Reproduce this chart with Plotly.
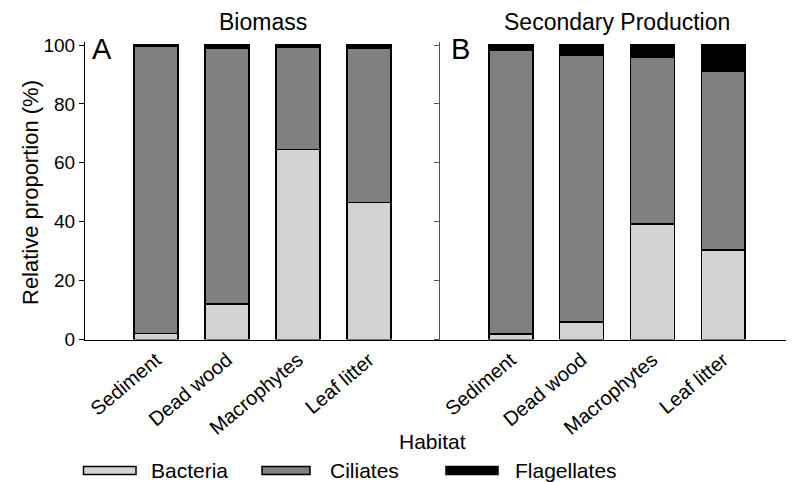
import plotly.graph_objects as go

categories = ["Sediment", "Dead wood", "Macrophytes", "Leaf litter"]
biomass_bacteria = [2.1, 12.0, 64.5, 46.5]
biomass_ciliates = [97.6, 87.0, 34.9, 52.3]
biomass_flagellates = [0.3, 1.0, 0.6, 1.2]
prod_bacteria = [1.9, 6.0, 39.2, 30.4]
prod_ciliates = [96.3, 90.4, 56.8, 60.8]
prod_flagellates = [1.8, 3.6, 4.0, 8.8]
series_names = ["Bacteria", "Ciliates", "Flagellates"]
series_colors = ["#d3d3d3", "#808080", "#000000"]
y_ticks = [0, 20, 40, 60, 80, 100]

# the page body adds an 8px offset; size the figure so it reaches the window edges
OFF = 8
W, H = 794 - OFF, 482 - OFF
FONT = "Liberation Sans, Arial, sans-serif"

def px(x):
    return (x - OFF) / W

def py(y):
    return 1 - (y - OFF) / H

fig = go.Figure()
panels = [
    ("x", "y", [biomass_bacteria, biomass_ciliates, biomass_flagellates]),
    ("x2", "y2", [prod_bacteria, prod_ciliates, prod_flagellates]),
]
for xa, ya, vals in panels:
    for name, color, v in zip(series_names, series_colors, vals):
        fig.add_trace(go.Bar(
            x=categories, y=v, name=name, xaxis=xa, yaxis=ya,
            marker=dict(color=color, line=dict(color="black", width=1.5)),
            width=0.62, showlegend=False,
        ))

y_top_px = 42.1
y0_px = 339.5
common_x = dict(type="category", showline=True, linecolor="black",
                linewidth=1, ticks="", tickangle=-40, automargin=False,
                tickfont=dict(size=20, family=FONT, color="black"),
                showgrid=False, zeroline=False, fixedrange=True, range=[-1, 4])
common_y = dict(range=[0, 101], tickvals=y_ticks, ticks="outside", ticklen=5,
                showline=True, linewidth=1, automargin=False, showgrid=False,
                zeroline=False, domain=[py(y0_px), py(y_top_px)],
                tickfont=dict(size=19, family=FONT, color="black"))

fig.update_layout(
    width=W, height=H, margin=dict(l=0, r=0, t=0, b=0),
    paper_bgcolor="white", plot_bgcolor="white", barmode="stack",
    font=dict(family=FONT, color="black"),
    xaxis=dict(domain=[px(85), px(440)], anchor="y", **common_x),
    xaxis2=dict(domain=[px(440), 1], anchor="y2", **common_x),
    yaxis=dict(anchor="x", linecolor="black", tickcolor="black", **common_y),
    yaxis2=dict(anchor="x2", linecolor="#555555", tickcolor="#555555",
                showticklabels=False, **common_y),
)

annos = [
    dict(text="Biomass", x=px(263), y=py(22), size=23),
    dict(text="Secondary Production", x=px(617), y=py(22), size=23),
    dict(text="A", x=px(102), y=py(49), size=29),
    dict(text="B", x=px(460), y=py(49), size=29),
    dict(text="Habitat", x=px(432), y=py(441), size=21),
]
for a in annos:
    fig.add_annotation(text=a["text"], x=a["x"], y=a["y"], xref="paper", yref="paper",
                       showarrow=False, xanchor="center", yanchor="middle",
                       font=dict(size=a["size"], family=FONT, color="black"))
fig.add_annotation(text="Relative proportion (%)", x=px(30), y=py(193), xref="paper",
                   yref="paper", showarrow=False, textangle=-90,
                   xanchor="center", yanchor="middle",
                   font=dict(size=22, family=FONT, color="black"))

# legend drawn manually with wide swatches
legend_items = [(83.5, 136, 149), (262, 310, 328), (446, 498, 513)]
for (x0, x1, tx), name, color in zip(legend_items, series_names, series_colors):
    fig.add_shape(type="rect", xref="paper", yref="paper",
                  x0=px(x0), x1=px(x1), y0=py(474.5), y1=py(466.5),
                  fillcolor=color, line=dict(color="black", width=1.5))
    fig.add_annotation(text=name, x=px(tx), y=py(470), xref="paper", yref="paper",
                       showarrow=False, xanchor="left", yanchor="middle",
                       font=dict(size=21, family=FONT, color="black"))

fig.write_html("out.html")
